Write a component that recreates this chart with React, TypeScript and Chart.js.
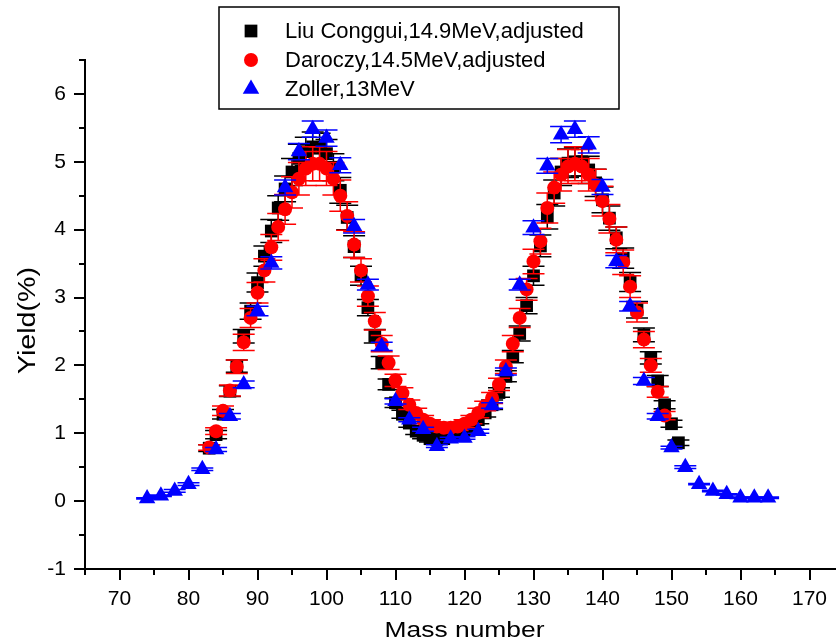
import React, { useEffect, useRef } from 'react';
import { Chart, registerables } from 'chart.js';

Chart.register(...registerables);

// ---------------- data ----------------
const SERIES_LABELS = ['Liu Conggui,14.9MeV,adjusted', 'Daroczy,14.5MeV,adjusted', 'Zoller,13MeV'];
const X_TITLE = 'Mass number';
const Y_TITLE = 'Yield(%)';

const LIU_MASS = [83, 84, 85, 86, 87, 88, 89, 90, 91, 92, 93, 94, 95, 96, 97, 98, 99, 100, 101, 102, 103, 104, 105, 106, 107, 108, 109, 110, 111, 112, 113, 114, 115, 116, 117, 118, 119, 120, 121, 122, 123, 124, 125, 126, 127, 128, 129, 130, 131, 132, 133, 134, 135, 136, 137, 138, 139, 140, 141, 142, 143, 144, 145, 146, 147, 148, 149, 150, 151];
const LIU_YIELD = [0.78, 0.98, 1.28, 1.62, 1.99, 2.43, 2.8, 3.22, 3.61, 3.98, 4.32, 4.6, 4.85, 5.05, 5.15, 5.22, 5.2, 5.12, 4.92, 4.58, 4.18, 3.75, 3.32, 2.85, 2.43, 2.04, 1.72, 1.45, 1.28, 1.15, 1.03, 0.97, 0.92, 0.91, 0.92, 0.95, 1.0, 1.05, 1.1, 1.2, 1.3, 1.42, 1.6, 1.84, 2.13, 2.47, 2.88, 3.32, 3.76, 4.19, 4.54, 4.85, 4.98, 5.0, 5.0, 4.88, 4.69, 4.44, 4.17, 3.88, 3.58, 3.23, 2.82, 2.45, 2.11, 1.77, 1.42, 1.14, 0.86];
const LIU_ERR = [0.05, 0.06, 0.07, 0.08, 0.09, 0.1, 0.12, 0.14, 0.15, 0.17, 0.18, 0.19, 0.2, 0.21, 0.21, 0.22, 0.22, 0.21, 0.2, 0.19, 0.18, 0.16, 0.14, 0.12, 0.1, 0.09, 0.08, 0.07, 0.06, 0.06, 0.05, 0.05, 0.05, 0.05, 0.05, 0.05, 0.05, 0.05, 0.05, 0.06, 0.06, 0.07, 0.07, 0.08, 0.09, 0.11, 0.12, 0.14, 0.16, 0.18, 0.19, 0.2, 0.21, 0.21, 0.21, 0.2, 0.2, 0.19, 0.18, 0.16, 0.15, 0.14, 0.12, 0.1, 0.09, 0.08, 0.06, 0.05, 0.04];

const DAR_MASS = [83, 84, 85, 86, 87, 88, 89, 90, 91, 92, 93, 94, 95, 96, 97, 98, 99, 100, 101, 102, 103, 104, 105, 106, 107, 108, 109, 110, 111, 112, 113, 114, 115, 116, 117, 118, 119, 120, 121, 122, 123, 124, 125, 126, 127, 128, 129, 130, 131, 132, 133, 134, 135, 136, 137, 138, 139, 140, 141, 142, 143, 144, 145, 146, 147, 148, 149];
const DAR_YIELD = [0.79, 1.03, 1.33, 1.63, 1.98, 2.34, 2.7, 3.07, 3.4, 3.74, 4.04, 4.3, 4.55, 4.75, 4.9, 4.97, 4.97, 4.9, 4.75, 4.5, 4.2, 3.78, 3.4, 3.02, 2.65, 2.32, 2.04, 1.78, 1.59, 1.42, 1.3, 1.2, 1.14, 1.1, 1.08, 1.08, 1.1, 1.14, 1.2, 1.3, 1.4, 1.52, 1.72, 1.98, 2.32, 2.7, 3.12, 3.53, 3.83, 4.32, 4.62, 4.81, 4.93, 4.97, 4.93, 4.81, 4.66, 4.42, 4.16, 3.85, 3.52, 3.16, 2.78, 2.38, 2.0, 1.61, 1.26];
const DAR_ERR = [0.04, 0.05, 0.07, 0.08, 0.1, 0.12, 0.14, 0.15, 0.17, 0.19, 0.2, 0.22, 0.23, 0.24, 0.25, 0.25, 0.25, 0.25, 0.24, 0.23, 0.21, 0.19, 0.17, 0.15, 0.13, 0.12, 0.1, 0.09, 0.08, 0.07, 0.07, 0.06, 0.06, 0.06, 0.05, 0.05, 0.06, 0.06, 0.06, 0.07, 0.07, 0.08, 0.09, 0.1, 0.12, 0.14, 0.16, 0.18, 0.19, 0.22, 0.23, 0.24, 0.25, 0.25, 0.25, 0.24, 0.23, 0.22, 0.21, 0.19, 0.18, 0.16, 0.14, 0.12, 0.1, 0.08, 0.06];

const ZOL_MASS = [74, 76, 78, 80, 82, 84, 86, 88, 90, 92, 94, 96, 98, 100, 102, 104, 106, 108, 110, 112, 114, 116, 118, 120, 122, 124, 126, 128, 130, 132, 134, 136, 138, 140, 142, 144, 146, 148, 150, 152, 154, 156, 158, 160, 162, 164];
const ZOL_YIELD = [0.04, 0.08, 0.15, 0.25, 0.47, 0.76, 1.25, 1.72, 2.8, 3.51, 4.62, 5.15, 5.48, 5.35, 4.95, 4.05, 3.19, 2.28, 1.47, 1.2, 1.06, 0.81, 0.92, 0.93, 1.03, 1.41, 1.91, 3.19, 4.03, 4.94, 5.4, 5.48, 5.25, 4.63, 3.53, 2.87, 1.77, 1.25, 0.79, 0.5, 0.25, 0.15, 0.1, 0.05, 0.05, 0.05];
const ZOL_ERR = [0.01, 0.01, 0.02, 0.02, 0.02, 0.03, 0.04, 0.05, 0.07, 0.09, 0.11, 0.12, 0.12, 0.12, 0.11, 0.1, 0.08, 0.06, 0.04, 0.03, 0.03, 0.02, 0.02, 0.02, 0.03, 0.04, 0.05, 0.08, 0.1, 0.11, 0.12, 0.12, 0.12, 0.11, 0.09, 0.07, 0.05, 0.04, 0.02, 0.02, 0.01, 0.01, 0.01, 0.01, 0.01, 0.01];

const X_TICKS = [70, 80, 90, 100, 110, 120, 130, 140, 150, 160, 170];
const X_MINOR = [65, 75, 85, 95, 105, 115, 125, 135, 145, 155, 165, 175];
const Y_TICKS = [-1, 0, 1, 2, 3, 4, 5, 6];
const Y_MINOR = [-0.5, 0.5, 1.5, 2.5, 3.5, 4.5, 5.5, 6.5];

const FONT = "'Liberation Sans', Arial, sans-serif";

// ---------------- helpers ----------------
function drawMarker(ctx: CanvasRenderingContext2D, style: string, x: number, y: number, r: number, color: string) {
  ctx.save();
  ctx.fillStyle = color;
  ctx.beginPath();
  if (style === 'rect') {
    const s = Math.SQRT1_2 * r;
    ctx.rect(x - s, y - s, 2 * s, 2 * s);
  } else if (style === 'circle') {
    ctx.arc(x, y, r, 0, Math.PI * 2);
  } else {
    let a = 0;
    ctx.moveTo(x + Math.sin(a) * r, y - Math.cos(a) * r);
    a += (2 * Math.PI) / 3;
    ctx.lineTo(x + Math.sin(a) * r, y - Math.cos(a) * r);
    a += (2 * Math.PI) / 3;
    ctx.lineTo(x + Math.sin(a) * r, y - Math.cos(a) * r);
    ctx.closePath();
  }
  ctx.fill();
  ctx.restore();
}

const errorBarPlugin = {
  id: 'errorBars',
  beforeDatasetDraw(chart: any, args: any) {
    const ds = chart.data.datasets[args.index];
    const errs: number[] = ds.errors;
    if (!errs) return;
    const ctx = chart.ctx;
    const ys = chart.scales.y;
    ctx.save();
    ctx.strokeStyle = ds.errorColor;
    ctx.lineWidth = 1.5;
    args.meta.data.forEach((pt: any, i: number) => {
      const v = ds.data[i].y;
      const e = errs[i];
      const px = pt.x;
      const yt = ys.getPixelForValue(v + e);
      const yb = ys.getPixelForValue(v - e);
      ctx.beginPath();
      ctx.moveTo(px, yt);
      ctx.lineTo(px, yb);
      ctx.moveTo(px - 11, yt);
      ctx.lineTo(px + 11, yt);
      ctx.moveTo(px - 11, yb);
      ctx.lineTo(px + 11, yb);
      ctx.stroke();
    });
    ctx.restore();
  },
};

const decorPlugin = {
  id: 'decor',
  afterDraw(chart: any) {
    const ctx: CanvasRenderingContext2D = chart.ctx;
    const xs = chart.scales.x;
    const ys = chart.scales.y;
    const area = chart.chartArea;
    ctx.save();
    ctx.strokeStyle = '#000';
    ctx.lineWidth = 2;
    ctx.beginPath();
    X_TICKS.forEach((v) => {
      const x = Math.round(xs.getPixelForValue(v));
      ctx.moveTo(x, area.bottom);
      ctx.lineTo(x, area.bottom + 11);
    });
    X_MINOR.forEach((v) => {
      const x = Math.round(xs.getPixelForValue(v));
      ctx.moveTo(x, area.bottom);
      ctx.lineTo(x, area.bottom + 6);
    });
    Y_TICKS.forEach((v) => {
      const y = Math.round(ys.getPixelForValue(v));
      ctx.moveTo(area.left, y);
      ctx.lineTo(area.left - 11, y);
    });
    Y_MINOR.forEach((v) => {
      const y = Math.round(ys.getPixelForValue(v));
      ctx.moveTo(area.left, y);
      ctx.lineTo(area.left - 6, y);
    });
    ctx.stroke();

    // axis titles
    ctx.fillStyle = '#000';
    ctx.font = `22px ${FONT}`;
    ctx.textAlign = 'center';
    ctx.textBaseline = 'alphabetic';
    ctx.save();
    ctx.translate((area.left + area.right) / 2, 637);
    ctx.scale(1.2, 1);
    ctx.fillText(X_TITLE, 0, 0);
    ctx.restore();
    ctx.save();
    ctx.translate(35, (area.top + area.bottom) / 2 + 6);
    ctx.rotate(-Math.PI / 2);
    ctx.scale(1.3, 1.05);
    ctx.fillText(Y_TITLE, 0, 0);
    ctx.restore();

    // legend
    const lx = 219, ly = 7, lw = 400, lh = 102;
    ctx.lineWidth = 1.5;
    ctx.strokeStyle = '#000';
    ctx.fillStyle = '#fff';
    ctx.fillRect(lx, ly, lw, lh);
    ctx.strokeRect(lx, ly, lw, lh);
    const rowsY = [31, 60, 89];
    ctx.font = `22px ${FONT}`;
    ctx.textAlign = 'left';
    ctx.textBaseline = 'middle';
    chart.data.datasets.forEach((ds: any, i: number) => {
      drawMarker(ctx, ds.pointStyle, 251, rowsY[i], ds.pointRadius, ds.backgroundColor);
      ctx.fillStyle = '#000';
      ctx.fillText(ds.label, 285, rowsY[i] + 1);
    });
    ctx.restore();
  },
};

const toPoints = (xs: number[], ys: number[]) => xs.map((x, i) => ({ x, y: ys[i] }));

export default function App() {
  const ref = useRef<HTMLCanvasElement | null>(null);
  useEffect(() => {
    if (!ref.current) return;
    const chart = new Chart(ref.current, {
      type: 'scatter',
      data: {
        datasets: [
          {
            label: SERIES_LABELS[0],
            data: toPoints(LIU_MASS, LIU_YIELD),
            errors: LIU_ERR,
            errorColor: '#000000',
            pointStyle: 'rect',
            pointRadius: 9,
            backgroundColor: '#000000',
            borderWidth: 0,
            order: 3,
          } as any,
          {
            label: SERIES_LABELS[1],
            data: toPoints(DAR_MASS, DAR_YIELD),
            errors: DAR_ERR,
            errorColor: '#ff0000',
            pointStyle: 'circle',
            pointRadius: 7,
            backgroundColor: '#ff0000',
            borderWidth: 0,
            order: 2,
          } as any,
          {
            label: SERIES_LABELS[2],
            data: toPoints(ZOL_MASS, ZOL_YIELD),
            errors: ZOL_ERR,
            errorColor: '#0000ff',
            pointStyle: 'triangle',
            pointRadius: 9.5,
            backgroundColor: '#0000ff',
            borderWidth: 0,
            order: 1,
          } as any,
        ],
      },
      options: {
        responsive: false,
        animation: false,
        devicePixelRatio: 1,
        layout: { padding: { top: 60, right: 16, left: 0, bottom: 0 } },
        plugins: { legend: { display: false }, tooltip: { enabled: false } },
        events: [],
        scales: {
          x: {
            type: 'linear',
            min: 65,
            max: 175,
            afterBuildTicks: (s: any) => {
              s.ticks = X_TICKS.map((value) => ({ value }));
            },
            afterFit: (s: any) => {
              s.height = 75;
            },
            ticks: { font: { family: FONT, size: 21 }, color: '#000', padding: 18, autoSkip: false, maxRotation: 0 },
            grid: { drawOnChartArea: false, drawTicks: false },
            border: { display: true, color: '#000', width: 2 },
          },
          y: {
            type: 'linear',
            min: -1,
            max: 6.5,
            afterBuildTicks: (s: any) => {
              s.ticks = Y_TICKS.map((value) => ({ value }));
            },
            afterFit: (s: any) => {
              s.width = 85;
            },
            ticks: { font: { family: FONT, size: 21 }, color: '#000', padding: 19 },
            grid: { drawOnChartArea: false, drawTicks: false },
            border: { display: true, color: '#000', width: 2 },
          },
        },
      } as any,
      plugins: [errorBarPlugin, decorPlugin],
    });
    return () => chart.destroy();
  }, []);

  return (
    <div style={{ position: 'fixed', left: 0, top: 0, width: 836, height: 644, overflow: 'hidden', background: '#fff' }}>
      <canvas ref={ref} width={860} height={644} style={{ display: 'block' }} />
    </div>
  );
}
